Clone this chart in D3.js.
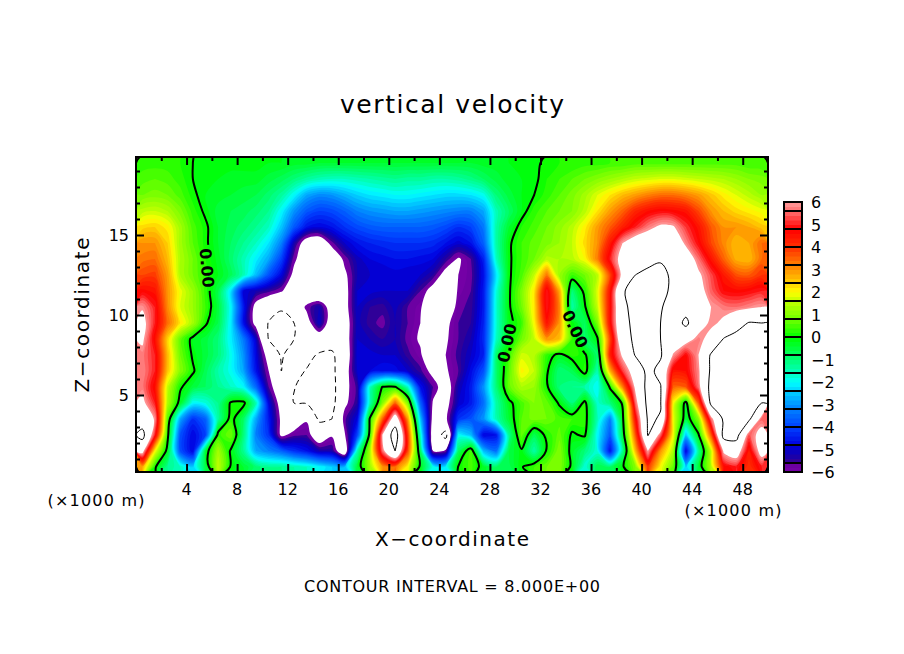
<!DOCTYPE html>
<html>
<head>
<meta charset="utf-8">
<script src="https://cdn.jsdelivr.net/npm/d3@7"></script>
<style>
  html, body { margin: 0; background: #fff; }
  text { font-family: "DejaVu Sans", sans-serif; fill: #000; }
</style>
</head>
<body>
<svg id="chart" width="904" height="654"></svg>
<script>
// Grid cells are 1 km wide and 1 km tall, rows run from the top of the domain down.
const z195 = [.3,.3,.3,.2,0,-.1,-.1,-.1,-.1,-.1, -.2,-.2,-.3,-.3,-.4,-.4,-.4,-.4,-.4,-.4, -.4,-.4,-.4,-.4,-.4,-.4,-.4,-.3,-.3,-.2, -.2,-.1,.1,.2,.2,.3,.3,.4,.4,.5, .5,.5,.5,.5,.5,.5,.5,.5,.4,.4];
const z185 = [.5,.6,.5,.3,0,-.2,-.2,-.3,-.3,-.3, -.5,-.7,-1,-1.3,-1.5,-1.6,-1.6,-1.5,-1.4,-1.3, -1.2,-1.3,-1.3,-1.4,-1.4,-1.3,-1.1,-.8,-.5,-.3, -.2,-.1,.2,.4,.6,.8,1,1.2,1.4,1.6, 1.7,1.8,1.8,1.7,1.6,1.5,1.4,1.2,1,.9];
const z175 = [.8,.9,.8,.5,.1,-.2,-.3,-.4,-.5,-.6, -.9,-1.3,-2,-2.8,-3.1,-3,-2.7,-2.4,-2.2,-2.1, -2,-2,-2.1,-2.2,-2.3,-2.3,-2.2,-1.9,-1,-.5, -.2,0,.3,.6,.9,1.3,1.8,2.2,2.6,2.9, 3.2,3.4,3.4,3.2,2.9,2.5,2.1,1.8,1.5,1.2];
const z165 = [1.5,1.6,1.4,.9,.3,-.1,-.5,-.6,-.7,-.9, -1.2,-2,-3,-3.7,-4,-3.9,-3.6,-3.2,-3,-2.9, -2.8,-2.8,-2.9,-3,-3.1,-3.2,-3.2,-2.8,-1.5,-.8, -.2,.3,.6,.8,1,1.5,2.2,2.9,3.5,4.2, 4.6,4.8,4.7,4.5,3.8,3,2.6,2.3,2.1,1.9];
const z155 = [2.3,2.4,2.1,1.3,.5,.1,-.4,-.7,-.9,-1.2, -1.6,-2.5,-3.7,-4.6,-4.8,-4.6,-4.2,-3.9,-3.7,-3.6, -3.6,-3.6,-3.6,-3.7,-3.9,-4.2,-4,-3.3,-1.4,-.4, .2,.5,.8,1.1,1.5,2.1,2.9,3.6,4.3,5, 5.7,6.2,6.1,5.2,4.5,3.6,3,3,2.8,2.5];
const z145 = [3,3,2.4,1.3,.6,.1,-.4,-.8,-1.2,-1.6, -2.2,-3.2,-5.2,-6.6,-6.8,-5.7,-5,-4.6,-4.4,-4.3, -4.2,-4.2,-4.2,-4.3,-4.6,-4.9,-4.6,-3.6,-1.4,-.1, .4,.7,.9,1.2,1.6,2.3,3,4.4,6,6.8, 7,7.2,7,5.8,4.8,3.8,3.1,2.6,2.8,3.4];
const z135 = [3.3,3.4,2.6,1.4,.8,.2,-.3,-.9,-1.5,-2.1, -2.8,-4,-5.8,-6.8,-7,-6.9,-5.8,-5.1,-4.8,-4.7, -4.6,-4.6,-4.7,-4.8,-5.4,-6.1,-5.6,-4.4,-1.6,-.1, .4,.8,1.5,1.4,1.5,2,3.2,5,6.6,7.1, 7.5,7.8,7.4,6.8,5.6,4.5,3.5,2.7,2.6,3.4];
const z125 = [3.8,3.9,2.9,1.4,.8,.3,-.2,-.7,-1.5,-2.6, -3.8,-4.8,-6.3,-7,-7.2,-7.2,-6.2,-5.2,-5,-5, -4.9,-5,-5,-5.4,-6.4,-6,-5.7,-4.6,-2.2,-.1, .5,1.6,3.3,1.2,.4,.8,1.5,3.8,6.4,8, 8.4,8.6,7.6,7,6.2,5.3,4.4,3.7,3.6,4];
const z115 = [4.7,4.5,3,1.9,1.2,.3,-.6,-2.2,-4.8,-5.2, -5.5,-5.9,-6.8,-7.2,-7.4,-7.4,-6.4,-5,-4.9,-5, -5,-5,-5.6,-6.4,-7,-5.9,-5.6,-4.5,-1.8,-.1, .9,2.2,5,2.8,-1,.2,1.8,4.5,7.8,8.8, 8.8,8.7,7.5,7,6.5,5.5,4.8,4.7,4.8,5];
const z105 = [5.9,5,3.1,1.8,1.2,.4,-.5,-2,-4.5,-6.4, -7.2,-7.8,-7,-5.8,-5.2,-6.6,-6.4,-5,-5.4,-5.5, -5.1,-5.6,-5.9,-7,-6.9,-5.7,-5.5,-4.5,-1.7,-.1, .8,2.2,5,3.2,-1.4,-.1,1.6,4.6,7.6,8.6, 8.6,8.2,7,7.3,6.5,6,5.7,5.6,5.8,6];
const z095 = [6.4,5,3.4,2.2,1.3,.1,-.6,-2.1,-4.6,-6.4, -8.1,-8.6,-8,-6.5,-5,-6.7,-6.6,-5.1,-5.5,-5.7, -5.2,-5.6,-6,-7.1,-6.2,-5.6,-5.4,-4.4,-1.7,-.2, .4,2,4.5,3,-.1,-.8,.9,4.6,7.5,8.4, 8.3,8,7,8.4,6.6,5.8,6.2,7.3,8.1,8];
const z085 = [6.2,4.6,2.4,.7,-.2,-.5,-1,-2.1,-3.3,-5, -8.1,-8.4,-8,-7,-6.8,-7.2,-6.6,-5,-5.2,-5.4, -5.2,-5.7,-6.1,-7,-6.1,-5.6,-5.2,-4.3,-1.6,-.2, .8,1.6,3,2.6,.4,-.9,-.1,3.8,7.3,8.3, 8.2,8,7,6.5,5.7,6.4,8.1,8.6,8.7,8.5];
const z075 = [5.7,5,2.6,.8,-.1,-.5,-1,-1.9,-3,-4.8, -6.5,-8.2,-7.2,-7.5,-8.2,-8.3,-6.8,-4.9,-4.9,-5, -5,-5.5,-5.9,-6.9,-6,-5.5,-5,-4.4,-.9,.4, 1.7,1.5,.3,-.2,.3,.1,-.9,4.3,6.2,8.1, 8.3,8.2,5.9,4.8,6,8.2,8.7,8.9,8.9,8.1];
const z065 = [5.8,5,2.5,1,.1,-.7,-1.4,-1.9,-2.8,-4.6, -6,-8,-7.5,-8.1,-8.8,-8.5,-6.5,-5,-4.8,-4.6, -4.7,-5,-5.5,-6.3,-6.1,-5.6,-4.7,-3.8,-.9,.6, 2.1,1.6,.1,-1,-.7,.3,-1.5,2.7,5.2,6.7, 8.5,7.5,4.5,4.6,5.8,8.3,9,9,9,8.1];
const z055 = [5.7,4.6,1.6,.1,-.5,-.8,-1.2,-1.6,-2,-3.5, -5.6,-6.9,-7.9,-8.8,-9,-8.7,-6.3,-5.5,-1.6,.05, .1,-1.6,-4.6,-5.6,-6.6,-5.2,-4.5,-3,-1,.7, 1.4,1.2,.1,-1,-1.2,-1.4,-2,.1,3.2,6.2, 8.6,8.1,3.5,3.6,5.6,8.6,9,9,9,8.4];
const z045 = [6.3,5,1.4,-.3,-2,-1.8,-1.2,.1,.2,-1.5, -4.8,-6.5,-8,-8.1,-8.7,-8.6,-6.2,-5.4,-1.5,1, 3.5,1,-3.6,-6.1,-6.4,-5,-4.5,-3.4,-1.4,-.2, .5,1,.7,-.1,-1,.2,-1.7,-1,.1,5.5, 8.5,8.1,2,-.3,3.6,8.4,9,9,9,8];
const z035 = [7,5.9,.6,-2.8,-4.2,-3.6,-1.3,.3,-.8,-2.8, -4.5,-6.2,-6.8,-6.1,-8.3,-8,-5.7,-4.8,.1,3.5, 7,3,-2.5,-6.4,-6.2,-4.2,-3.8,-3,-1.5,-.4, .6,.9,.8,.5,.4,.3,-1.5,-3.2,-.2,4.5, 8.2,7.9,1.9,-.5,1,5.6,8.3,8.1,8.3,5.5];
const z025 = [8.6,5,.2,-3.8,-4.8,-4,.3,.8,-1,-3.2, -4.2,-6.2,-5.7,-5.6,-6.8,-6.1,-6.1,-4,.3,6, 9,4,-1.6,-6.8,-8.6,-2,-2.6,-4.8,-4.6,-1.2, .7,-.7,.2,.7,-.1,.1,-2,-3.7,-.5,3.6, 8.1,5.5,2,-2.5,-.1,3.6,8.6,8.6,5.4,6.5];
const z015 = [6.5,2,-.3,-3.8,-4.8,-.4,1.3,-.1,-1.2,-2.8, -3.2,-3.6,-4.2,-4.6,-5.2,-5.3,-7,-1.5,1.3,5.6, 8,3.8,-.8,-6,-5.8,-.8,.5,-2.6,-3.4,-.6, -.1,-1.4,.1,1,-.3,-1,-1.8,-4.6,-1.2,2.6, 6,3,1.4,-4.8,-1.2,1.6,6.2,6.8,4.4,6.6];
const z005 = [2.8,.1,-1.2,-1.6,-2.4,-.6,1.6,-.1,-.4,-.9, -1.2,-1.2,-1.4,-1.6,-2,-2.4,-2.6,-.5,1.2,3, 3.4,2,-.2,-1.9,-2.1,.05,.5,-.3,-.8,-.7, -.05,.4,.8,1,-.2,-1.8,-.6,-.8,-.1,1, 4,2,.7,-2.4,-.5,1.4,4.6,5,4,5];
const rows = [z195,z185,z175,z165,z155,z145,z135,z125,z115,z105,z095,z085,z075,z065,z055,z045,z035,z025,z015,z005];

// Colour ramp
const rampValues = [-6,-5.6,-5.5,-5.2,-4.8,-4,-3.2,-2.4,-2,-1.6,-.8,0,.8,1.6,2,2.4,3.2,4,4.8,5.6,6];
const rampColors = ["#7800a8","#6800a0","#300098","#1000b0","#0000e0","#0040ff","#0080ff","#00d0ff","#00ffff","#00ffc0","#00ff60","#00ff00","#70ff00","#c0ff00","#ffff00","#ffd000","#ff8000","#ff3000","#ff0000","#ff7070","#ff9c9c"];

const xTicks = [4,8,12,16,20,24,28,32,36,40,44,48];
const zTicks = [5,10,15];
const barTicks = [6,5,4,3,2,1,0,-1,-2,-3,-4,-5,-6];
const zeroLabels = [
  { x: 207, y: 268, angle: 85 },
  { x: 507, y: 343, angle: -78 },
  { x: 575, y: 329, angle: 65 },
];

const nx = rows[0].length;
const nz = rows.length;
const flat = rows.flat();

const x = d3.scaleLinear().domain([0, 50]).range([136, 768]);
const z = d3.scaleLinear().domain([5, 15]).range([395, 235]);
const top_ = 157, bottom = 472;
const color = d3.scaleLinear().domain(rampValues).range(rampColors).interpolate(d3.interpolateRgb);

const svg = d3.select("#chart");

const defs = svg.append("defs");
defs.append("clipPath").attr("id", "plot").append("rect")
  .attr("x", x(0)).attr("y", top_).attr("width", x(50) - x(0)).attr("height", bottom - top_);

// Gaps in the zero line where its labels sit
const gap = defs.append("mask").attr("id", "gaps").attr("maskUnits", "userSpaceOnUse")
  .attr("x", 0).attr("y", 0).attr("width", 904).attr("height", 654);
gap.append("rect").attr("width", 904).attr("height", 654).attr("fill", "#fff");
gap.selectAll("rect.g").data(zeroLabels).join("rect").attr("class", "g")
  .attr("x", -23).attr("y", -10).attr("width", 46).attr("height", 20).attr("fill", "#000")
  .attr("transform", d => `translate(${d.x},${d.y}) rotate(${d.angle})`);

// Rings come out of d3.contours as straight segments, draw them as curves
const ringLine = d3.line()
  .x(d => x(d[0]))
  .y(d => z(nz - d[1]))
  .curve(d3.curveCatmullRomClosed.alpha(0.5));
const project = (geom) => geom.coordinates
  .flatMap(polygon => polygon.map(ring => ringLine(ring.slice(0, -1))))
  .join("");
const contours = d3.contours().size([nx, nz]);

// Filled bands, painted upward so each covers the one below
const step = 0.2;
const levels = d3.range(60).map(i => +(-6 + i * step).toFixed(1));
const plot = svg.append("g").attr("clip-path", "url(#plot)");
plot.selectAll("path.band")
  .data(contours.thresholds(levels)(flat))
  .join("path").attr("class", "band")
  .attr("d", project)
  .attr("fill-rule", "evenodd")
  .attr("fill", d => color(d.value + step / 2));
plot.append("path")
  .datum(contours.contour(flat, 6))
  .attr("d", project).attr("fill-rule", "evenodd").attr("fill", "#fff");

// Contour lines
plot.append("path").datum(contours.contour(flat, -8)).attr("d", project)
  .attr("fill", "none").attr("stroke", "#000").attr("stroke-width", 1).attr("stroke-dasharray", "6,4");
plot.append("path").datum(contours.contour(flat, 8)).attr("d", project)
  .attr("fill", "none").attr("stroke", "#000").attr("stroke-width", 1);
plot.append("g").attr("mask", "url(#gaps)").append("path").datum(contours.contour(flat, 0)).attr("d", project)
  .attr("fill", "none").attr("stroke", "#000").attr("stroke-width", 2);

svg.selectAll("text.zero").data(zeroLabels).join("text").attr("class", "zero")
  .attr("transform", d => `translate(${d.x},${d.y}) rotate(${d.angle})`)
  .attr("text-anchor", "middle").attr("dy", "0.36em")
  .style("font-size", "16px").style("font-weight", "bold").text("0.00");

// Frame and ticks
svg.append("rect").attr("x", x(0)).attr("y", top_).attr("width", x(50) - x(0)).attr("height", bottom - top_)
  .attr("fill", "none").attr("stroke", "#000").attr("stroke-width", 2);

function drawTicks(axis, pos, values, size) {
  const g = svg.append("g").attr("transform", pos)
    .call(axis.tickValues(values).tickSize(size).tickFormat(""));
  g.select(".domain").remove();
  g.selectAll("line").attr("stroke", "#000").attr("stroke-width", 2);
}
const minorX = d3.range(2, 50, 2).filter(v => v % 4);
const minorZ = d3.range(1, 20).filter(v => v % 5);
[[xTicks, -8], [minorX, -4]].forEach(([v, s]) => {
  drawTicks(d3.axisBottom(x), `translate(0,${bottom})`, v, s);
  drawTicks(d3.axisTop(x), `translate(0,${top_})`, v, s);
});
[[zTicks, -8], [minorZ, -4]].forEach(([v, s]) => {
  drawTicks(d3.axisLeft(z), `translate(${x(0)},0)`, v, s);
  drawTicks(d3.axisRight(z), `translate(${x(50)},0)`, v, s);
});

svg.selectAll("text.xt").data(xTicks).join("text").attr("class", "xt")
  .attr("x", d => x(d)).attr("y", 495).attr("text-anchor", "middle")
  .style("font-size", "16px").text(d => d);
svg.selectAll("text.zt").data(zTicks).join("text").attr("class", "zt")
  .attr("x", 129).attr("y", d => z(d) + 6).attr("text-anchor", "end")
  .style("font-size", "16px").text(d => d);

// Titles
function label(txt, px, py, size, len, rotate) {
  const t = svg.append("text").attr("text-anchor", "middle")
    .style("font-size", size + "px").attr("textLength", len).attr("lengthAdjust", "spacing").text(txt);
  if (rotate) t.attr("transform", `translate(${px},${py}) rotate(${rotate})`);
  else t.attr("x", px).attr("y", py);
}
label("vertical velocity", 452, 113, 25, 224);
label("X\u2212coordinate", 452, 546, 20, 154);
label("Z\u2212coordinate", 89, 315, 20, 155, -90);
label("CONTOUR INTERVAL = 8.000E+00", 452, 592, 16, 296);
label("(\u00d71000 m)", 96, 506, 16, 97);
label("(\u00d71000 m)", 733, 516, 16, 97);

// Colour bar
const barY = d3.scaleLinear().domain([-6, 6]).range([472, 202]);
const bar = svg.append("g");
bar.selectAll("rect").data(levels).join("rect")
  .attr("x", 784).attr("width", 18)
  .attr("y", d => barY(d + step)).attr("height", d => barY(d) - barY(d + step) + 0.5)
  .attr("fill", d => color(d + step / 2));
bar.selectAll("line").data(d3.range(-7, 8).map(i => i * 0.8)).join("line")
  .attr("x1", 784).attr("x2", 802).attr("y1", d => barY(d)).attr("y2", d => barY(d))
  .attr("stroke", "#000").attr("stroke-width", 2);
bar.append("rect").attr("x", 784).attr("y", 202).attr("width", 18).attr("height", 270)
  .attr("fill", "none").attr("stroke", "#000").attr("stroke-width", 2);
svg.selectAll("text.bt").data(barTicks).join("text").attr("class", "bt")
  .attr("x", 811).attr("y", d => barY(d) + 6)
  .style("font-size", "16px").text(d => d < 0 ? "\u2212" + (-d) : d);
</script>
</body>
</html>
